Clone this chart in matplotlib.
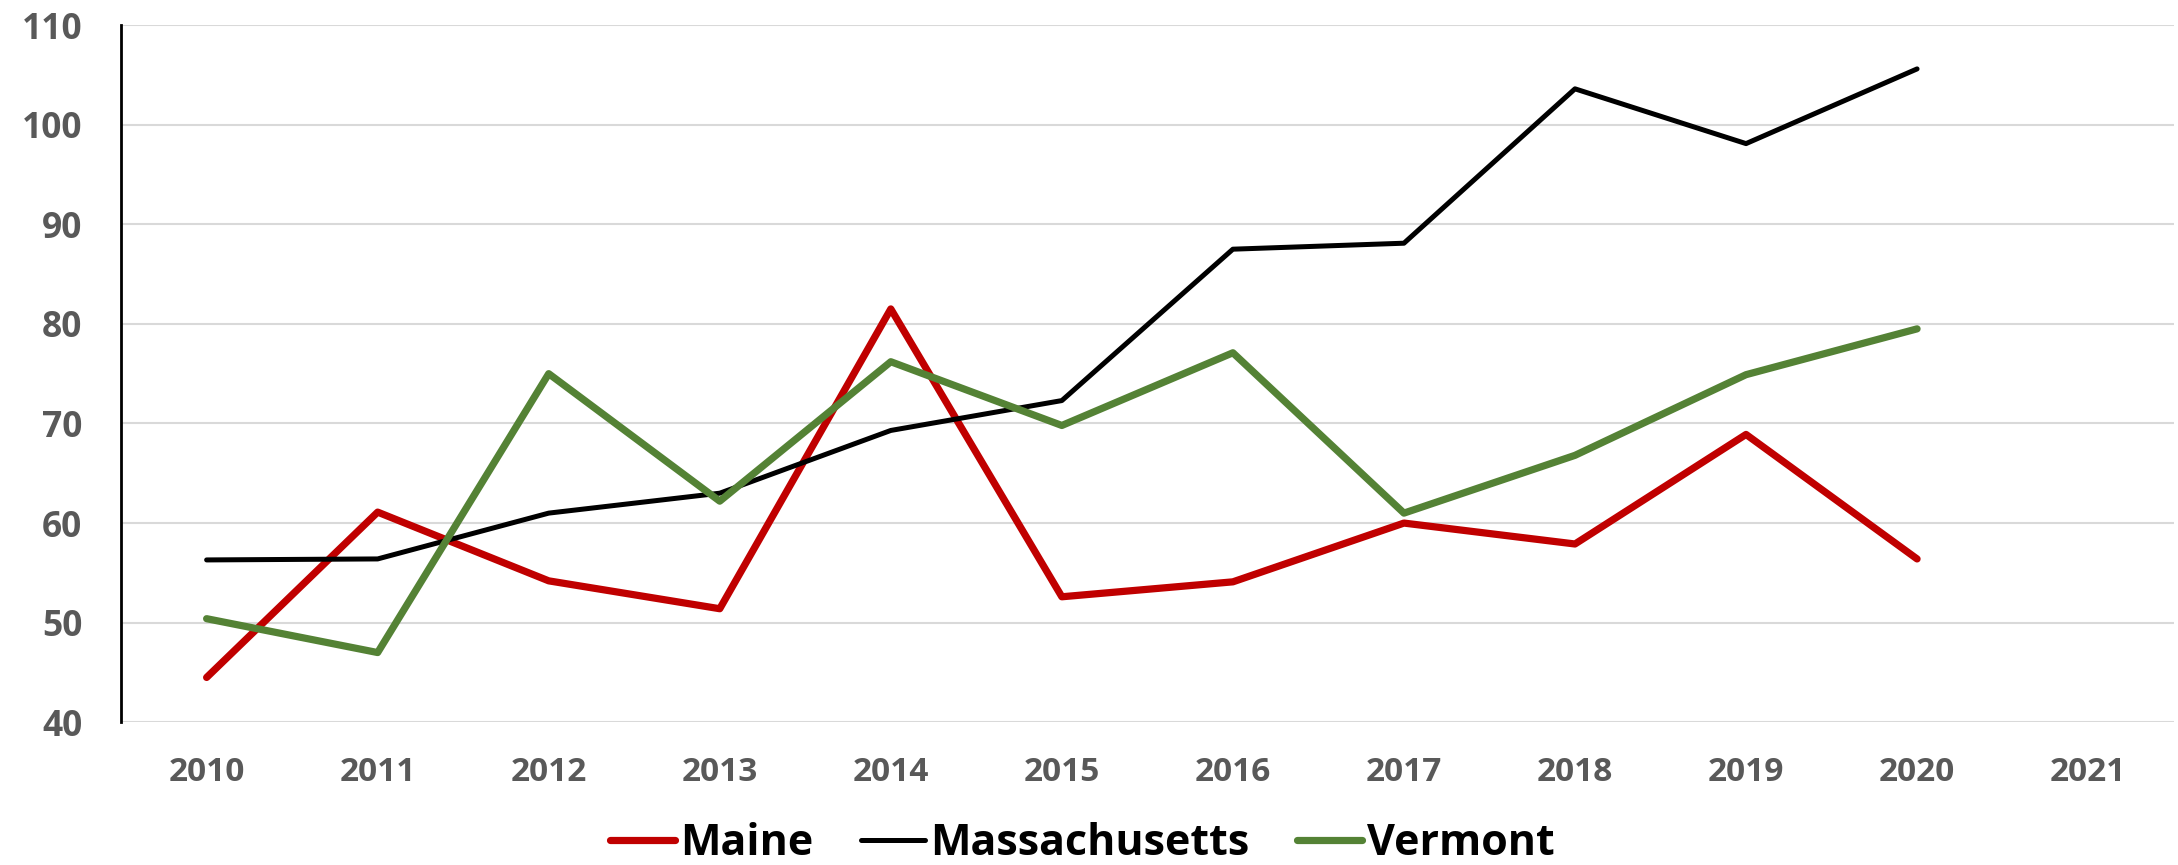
import matplotlib
matplotlib.use('Agg')
import matplotlib.pyplot as plt

# Data
years = ['2010', '2011', '2012', '2013', '2014', '2015',
         '2016', '2017', '2018', '2019', '2020', '2021']
maine = [44.5, 61.1, 54.2, 51.4, 81.5, 52.6, 54.1, 60.0, 57.9, 68.9, 56.4]
massachusetts = [56.3, 56.4, 61.0, 63.0, 69.3, 72.3, 87.5, 88.1, 103.6, 98.1, 105.6]
vermont = [50.4, 47.0, 75.0, 62.2, 76.2, 69.8, 77.1, 61.0, 66.8, 74.9, 79.5]

y_ticks = [40, 50, 60, 70, 80, 90, 100, 110]

plt.rcParams['font.family'] = ['Open Sans', 'DejaVu Sans']

fig = plt.figure(figsize=(21.78, 8.65), dpi=100)
ax = fig.add_axes([0.0556, 0.165, 0.9424, 0.806])

x = list(range(len(years)))
ax.plot(x[:len(maine)], maine, color='#C00000', linewidth=5.2,
        solid_capstyle='round', solid_joinstyle='round', label='Maine', zorder=3)
ax.plot(x[:len(massachusetts)], massachusetts, color='#000000', linewidth=3.6,
        solid_capstyle='round', solid_joinstyle='round', label='Massachusetts', zorder=3)
ax.plot(x[:len(vermont)], vermont, color='#548235', linewidth=5.2,
        solid_capstyle='round', solid_joinstyle='round', label='Vermont', zorder=3)

ax.set_xlim(-0.5, len(years) - 0.5)
ax.set_ylim(40, 110)
ax.set_xticks(x)
ax.set_xticklabels(years)
ax.set_yticks(y_ticks)

ax.grid(axis='y', color='#d9d9d9', linewidth=1.5, zorder=0)
ax.set_axisbelow(True)

for s in ['top', 'right', 'bottom']:
    ax.spines[s].set_visible(False)
ax.spines['left'].set_color('#000000')
ax.spines['left'].set_linewidth(2.0)

ax.tick_params(axis='both', length=0, labelsize=24, labelcolor='#595959')
ax.tick_params(axis='x', pad=24)
ax.tick_params(axis='y', labelsize=25.5, pad=28)
for lbl in ax.get_xticklabels() + ax.get_yticklabels():
    lbl.set_fontweight('bold')

leg = fig.legend(loc='lower center', bbox_to_anchor=(0.497, -0.045), ncol=3,
                 frameon=False, handlelength=1.5, handletextpad=0.12,
                 columnspacing=1.1, prop={'size': 31, 'weight': 'bold'})

fig.savefig('out.png', dpi=100)
